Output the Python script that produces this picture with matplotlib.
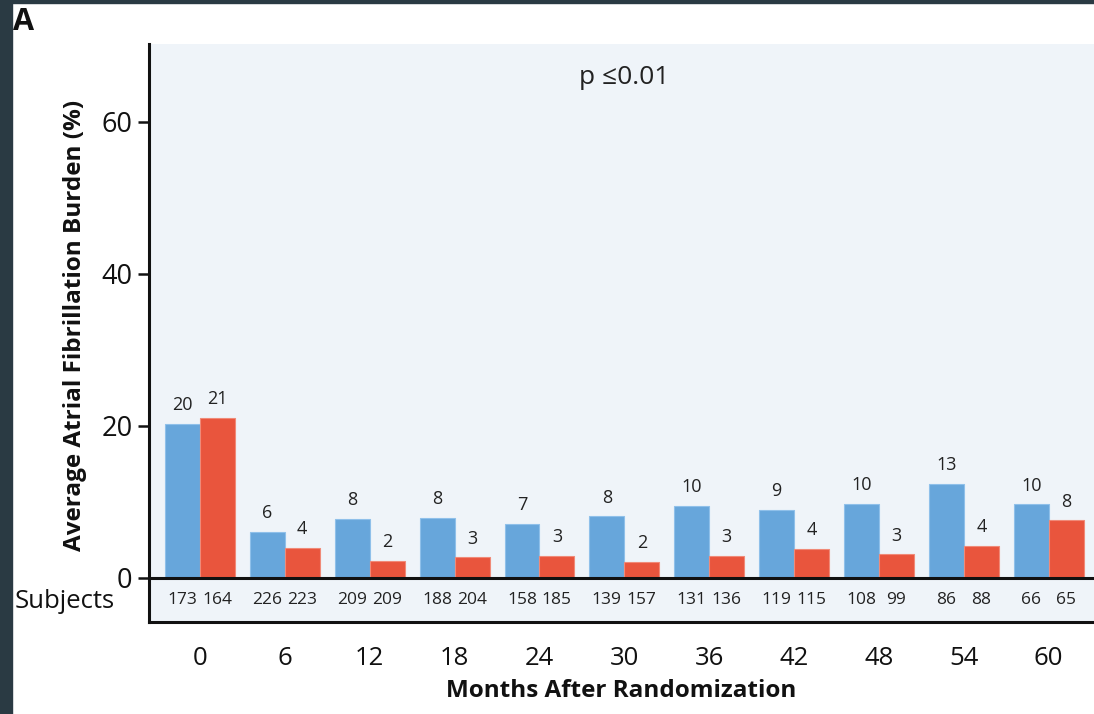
import matplotlib
matplotlib.use("Agg")
import matplotlib.pyplot as plt
from matplotlib.patches import Rectangle
import numpy as np

plt.rcParams['font.family'] = ['Open Sans', 'DejaVu Sans']

months = [0, 6, 12, 18, 24, 30, 36, 42, 48, 54, 60]
blue_vals = [20.3, 6.1, 7.8, 7.9, 7.1, 8.1, 9.5, 9.0, 9.8, 12.4, 9.7]
red_vals = [21.1, 4.0, 2.3, 2.7, 2.9, 2.1, 2.9, 3.8, 3.1, 4.2, 7.6]
blue_labels = ["20", "6", "8", "8", "7", "8", "10", "9", "10", "13", "10"]
red_labels = ["21", "4", "2", "3", "3", "2", "3", "4", "3", "4", "8"]
blue_n = ["173", "226", "209", "188", "158", "139", "131", "119", "108", "86", "66"]
red_n = ["164", "223", "209", "204", "185", "157", "136", "115", "99", "88", "65"]
yticks = [0, 20, 40, 60]

BLUE = "#67a6db"
RED = "#e9553d"
BG = "#eff4f9"
DARK = "#2a3a43"

fig = plt.figure(figsize=(10.94, 7.14), dpi=100)
ax = fig.add_axes([149/1094, 1-622/714, 1-149/1094, (622-44)/714])
ax.set_facecolor(BG)

x = np.array(months, dtype=float)
w = 2.47
ax.bar(x - w/2, blue_vals, width=w, color=BLUE, edgecolor="#8fc0ea", linewidth=0.8, zorder=2)
ax.bar(x + w/2, red_vals, width=w, color=RED, edgecolor="#f08a78", linewidth=0.8, zorder=2)

for xi, v, lab in zip(x - w/2, blue_vals, blue_labels):
    ax.annotate(lab, (xi, v), xytext=(0, 7), textcoords="offset points",
                ha="center", va="bottom", fontsize=13, color="#222222")
for xi, v, lab in zip(x + w/2, red_vals, red_labels):
    ax.annotate(lab, (xi, v), xytext=(0, 7), textcoords="offset points",
                ha="center", va="bottom", fontsize=13, color="#222222")

ny = -(600-578)/7.6
for xi, lab in zip(x - w/2, blue_n):
    ax.text(xi, ny, lab, ha="center", va="center", fontsize=12.5, color="#222222")
for xi, lab in zip(x + w/2, red_n):
    ax.text(xi, ny, lab, ha="center", va="center", fontsize=12.5, color="#222222")

ax.axhline(0, color="#111111", linewidth=2.2, zorder=3)

ax.set_xlim(-3.6, 63.2)
ax.set_ylim(-(622-578)/7.6, (578-44)/7.6)
ax.set_yticks(yticks)
ax.set_yticklabels([str(t) for t in yticks])
ax.set_xticks(months)
ax.set_xticklabels([str(m) for m in months])
ax.tick_params(axis="y", direction="out", length=8, width=1.8, pad=4, labelsize=19.5, colors="#111111")
ax.tick_params(axis="x", length=0, pad=17, labelsize=18.5, colors="#111111")

for s in ["top", "right"]:
    ax.spines[s].set_visible(False)
ax.spines["left"].set_linewidth(2.2)
ax.spines["bottom"].set_linewidth(2.2)
ax.spines["left"].set_color("#111111")
ax.spines["bottom"].set_color("#111111")

ax.set_xlabel("Months After Randomization", fontsize=17.5, fontweight="bold", labelpad=6, color="#111111")
ax.set_ylabel("Average Atrial Fibrillation Burden (%)", fontsize=17.5, fontweight="bold", color="#111111")
ax.yaxis.set_label_coords(-62/945, (622-325)/578)

ax.text(30, (578-77)/7.6, "p ≤0.01", ha="center", va="center", fontsize=19, color="#222222")

fig.text(65/1094, 1-602/714, "Subjects", ha="center", va="center", fontsize=18.5, color="#111111")
fig.text(13/1094, 1-22/714, "A", ha="left", va="center", fontsize=22, fontweight="bold", color="#111111")

fig.patches.append(Rectangle((0, 1-3/714), 1, 3/714, transform=fig.transFigure, color=DARK, zorder=10))
fig.patches.append(Rectangle((0, 0), 12/1094, 1, transform=fig.transFigure, color=DARK, zorder=10))

fig.savefig("out.png", dpi=100)
